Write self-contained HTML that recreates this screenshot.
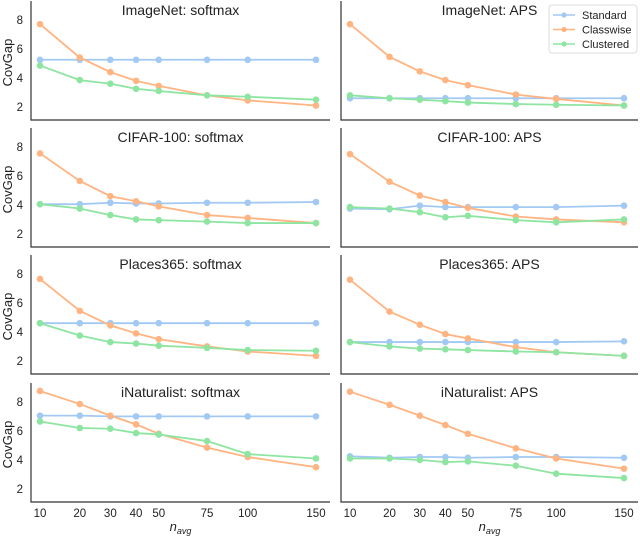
<!DOCTYPE html>
<html><head><meta charset="utf-8"><style>
body{margin:0;background:#fff;}
svg{font-family:"Liberation Sans","DejaVu Sans",sans-serif;}
</style></head><body>
<svg id="chart" width="640" height="538" xmlns="http://www.w3.org/2000/svg"></svg>
<script>
const xCategories=[10,20,30,40,50,75,100,150];
const yTicks=[2,4,6,8];
const seriesNames=["Standard","Classwise","Clustered"];
const panelTitles=[["ImageNet: softmax","ImageNet: APS"],["CIFAR-100: softmax","CIFAR-100: APS"],["Places365: softmax","Places365: APS"],["iNaturalist: softmax","iNaturalist: APS"]];
const imagenetSoftmax=[[5.25,5.25,5.25,5.25,5.25,5.25,5.25,5.25],[7.7,5.4,4.4,3.8,3.45,2.8,2.45,2.1],[4.85,3.85,3.6,3.25,3.1,2.8,2.7,2.5]];
const imagenetAPS=[[2.6,2.6,2.6,2.6,2.6,2.6,2.6,2.6],[7.7,5.45,4.45,3.85,3.5,2.85,2.55,2.1],[2.8,2.6,2.5,2.4,2.3,2.2,2.15,2.1]];
const cifarSoftmax=[[4.05,4.05,4.15,4.1,4.1,4.15,4.15,4.2],[7.55,5.65,4.6,4.25,3.9,3.3,3.1,2.75],[4.05,3.75,3.3,3.0,2.95,2.85,2.75,2.75]];
const cifarAPS=[[3.75,3.7,3.95,3.85,3.85,3.85,3.85,3.95],[7.5,5.6,4.65,4.2,3.8,3.2,3.0,2.8],[3.85,3.75,3.5,3.15,3.25,2.95,2.8,3.0]];
const placesSoftmax=[[4.6,4.6,4.6,4.6,4.6,4.6,4.6,4.6],[7.65,5.45,4.45,3.9,3.5,3.0,2.65,2.35],[4.6,3.75,3.3,3.2,3.05,2.9,2.75,2.7]];
const placesAPS=[[3.3,3.3,3.3,3.3,3.3,3.3,3.3,3.35],[7.6,5.4,4.5,3.85,3.55,2.95,2.6,2.35],[3.3,3.0,2.85,2.8,2.75,2.65,2.6,2.35]];
const inatSoftmax=[[7.05,7.05,7.0,7.0,7.0,7.0,7.0,7.0],[8.75,7.85,7.05,6.45,5.8,4.85,4.2,3.5],[6.65,6.2,6.15,5.85,5.75,5.3,4.4,4.1]];
const inatAPS=[[4.25,4.15,4.2,4.2,4.15,4.2,4.2,4.15],[8.7,7.8,7.05,6.4,5.8,4.8,4.1,3.4],[4.1,4.1,4.0,3.85,3.9,3.6,3.05,2.75]];
const panelData=[[imagenetSoftmax,imagenetAPS],[cifarSoftmax,cifarAPS],[placesSoftmax,placesAPS],[inatSoftmax,inatAPS]];

const colors=["#a1c9f4","#ffb482","#8de5a1"];
const NS="http://www.w3.org/2000/svg";
const svg=document.getElementById('chart');
function mk(tag,attrs,parent){const e=document.createElementNS(NS,tag);for(const k in attrs)e.setAttribute(k,attrs[k]);(parent||svg).appendChild(e);return e;}
const colX=[[31,330],[341,638]];
const rowTop=[1,128,255,383];
const rowH=119;
const yMin=1.1,yMax=9.3;
function xScale(c,v){const[a,b]=colX[c];const pa=a+9,pb=b-14;const s0=Math.sqrt(10),s1=Math.sqrt(150);return pa+(Math.sqrt(v)-s0)/(s1-s0)*(pb-pa);}
function yScale(r,v){return rowTop[r]+rowH-(v-yMin)/(yMax-yMin)*rowH;}
for(let r=0;r<4;r++){for(let c=0;c<2;c++){
  const g=mk('g',{});
  
  
  const[a,b]=colX[c];const bot=rowTop[r]+rowH;
  const ax=mk('path',{d:`M${a},${rowTop[r]} V${bot} H${b}`,fill:'none',stroke:'#333',"stroke-width":1.2},g);
  
  
  const t=mk('text',{x:(a+b)/2,y:rowTop[r]+14,"text-anchor":'middle',"font-size":14,fill:'#222'},g);
  t.textContent=panelTitles[r][c];
  
  
  if(c===0){
    yTicks.forEach(v=>{const tl=mk('text',{x:a-8,y:yScale(r,v)+4,"text-anchor":'end',"font-size":11.5,fill:'#222'},g);tl.textContent=v;
      
      });
    const yl=mk('text',{x:0,y:0,transform:`translate(12,${rowTop[r]+rowH/2+2}) rotate(-90)`,"text-anchor":'middle',"font-size":13,fill:'#222'},g);
    yl.textContent='CovGap';
    
    
  }
  if(r===3){
    xCategories.forEach(v=>{const xl=mk('text',{x:xScale(c,v),y:bot+15,"text-anchor":'middle',"font-size":11.5,fill:'#222'},g);xl.textContent=v;
      
      });
    const xt=mk('text',{x:(a+b)/2,y:bot+29,"text-anchor":'middle',"font-size":13,fill:'#222',"font-style":'italic'},g);
    xt.innerHTML='n<tspan font-size="9" dy="3">avg</tspan>';
    
    
  }
  panelData[r][c].forEach((vals,s)=>{
    const pts=vals.map((v,i)=>[xScale(c,xCategories[i]),yScale(r,v)]);
    const pl=mk('polyline',{points:pts.map(p=>p.join(',')).join(' '),fill:'none',stroke:colors[s],"stroke-width":1.8},g);
    
    
    pts.forEach(p=>{const cc=mk('circle',{cx:p[0],cy:p[1],r:3.3,fill:colors[s]},g);
      
      });
  });
}}
const lg=mk('g',{});


mk('rect',{x:549,y:5,width:88,height:48,rx:3,fill:'#fff',stroke:'#ddd'},lg);
seriesNames.forEach((n,i)=>{const y=15+i*14.5;
  mk('line',{x1:553,x2:575,y1:y,y2:y,stroke:colors[i],"stroke-width":1.6},lg);
  mk('circle',{cx:564,cy:y,r:2.6,fill:colors[i]},lg);
  const t=mk('text',{x:582,y:y+4,"font-size":11,fill:'#222'},lg);t.textContent=n;
  
  });
</script>
</body></html>
